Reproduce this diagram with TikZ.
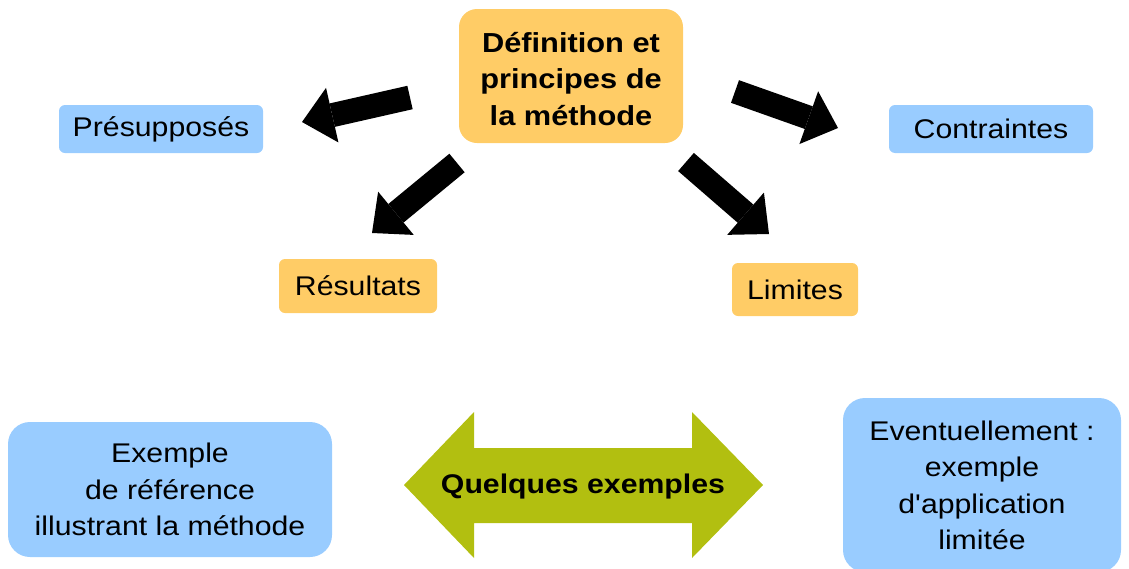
\documentclass[tikz,border=0pt]{standalone}
\usepackage{fontspec}
\setmainfont{Liberation Sans}[FakeStretch=1.12, Ligatures=TeXOff]
\usetikzlibrary{arrows.meta}
\definecolor{boxorange}{RGB}{255,204,102}
\definecolor{boxblue}{RGB}{153,204,255}
\definecolor{arrowolive}{RGB}{178,191,16}
\tikzset{
  lbl/.style={inner sep=0pt, align=center, font=\fontsize{27}{36.5}\selectfont},
  obox/.style={lbl, fill=boxorange, rounded corners=6pt},
  bbox/.style={lbl, fill=boxblue, rounded corners=6pt},
  bigbox/.style={lbl, rounded corners=22pt},
  blockarrow/.style={line width=24pt, -{Triangle[width=56pt,length=31pt,line width=0pt]}},
}
\begin{document}
\begin{tikzpicture}[x=1pt,y=-1pt]
\useasboundingbox (0,0) rectangle (1129,568);
% main boxes
\node[obox, rounded corners=18pt, minimum width=224pt, minimum height=134pt] (def) at (571,76) {};
\node[lbl, font=\fontsize{27.5}{36.5}\selectfont\bfseries] (deftxt) at (571,79) {Définition et\\principes de\\la méthode};
\node[bbox, minimum width=204pt, minimum height=48pt] (pres) at (161,129) {Présupposés};
\node[bbox, minimum width=204pt, minimum height=48pt] (contr) at (991,129) {Contraintes};
\node[obox, minimum width=158pt, minimum height=54pt] (res) at (358,286) {Résultats};
\node[obox, minimum width=126pt, minimum height=53pt] (lim) at (795,289.5) {Limites};
% block arrows
\coordinate (a1s) at (410,97.5);  \coordinate (a1e) at (302,122);
\coordinate (a2s) at (457,163);   \coordinate (a2e) at (372,233);
\coordinate (a3s) at (735,91.5);  \coordinate (a3e) at (838,128);
\coordinate (a4s) at (686,162);   \coordinate (a4e) at (769,234);
\draw[blockarrow] (a1s) -- (a1e);
\draw[blockarrow] (a2s) -- (a2e);
\draw[blockarrow] (a3s) -- (a3e);
\draw[blockarrow] (a4s) -- (a4e);
% bottom boxes
\node[bigbox, fill=boxblue, minimum width=324pt, minimum height=135pt] (ex) at (170,489.5) {Exemple\\de référence\\illustrant la méthode};
\node[bigbox, fill=boxblue, minimum width=278pt, minimum height=174pt, text depth=0pt] (ev) at (982,485) {Eventuellement :\\exemple\\d'application\\limitée};
% double arrow
\fill[arrowolive] (404,485) -- (474,412) -- (474,448) -- (692,448) -- (692,412) -- (763,485)
  -- (692,558) -- (692,523) -- (474,523) -- (474,558) -- cycle;
\node[lbl, font=\fontsize{27}{36.5}\selectfont\bfseries] (qex) at (583,487) {Quelques exemples};
\end{tikzpicture}
\end{document}
